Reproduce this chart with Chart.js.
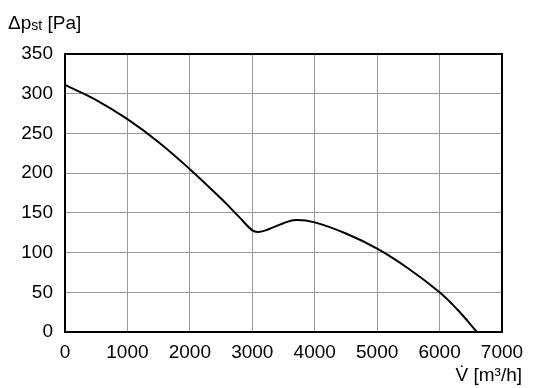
<!DOCTYPE html>
<html>
<head>
<meta charset="utf-8">
<script src="https://cdn.jsdelivr.net/npm/chart.js@4/dist/chart.umd.min.js"></script>
<style>
  body { margin: 0; background: #fff; }
  #wrap { width: 536px; height: 388px; }
</style>
</head>
<body>
<div id="wrap"><canvas id="myChart" width="536" height="388"></canvas></div>
<script>
'use strict';

// data
let flowValues = [0, 500, 1000, 1500, 2000, 2500, 2800, 3000, 3100, 3250, 3500, 3700, 4000, 4500, 5000, 5500, 6000, 6300, 6600];
let pressureValues = [311, 292, 268, 239, 205, 168, 144, 128, 126, 129, 137, 141, 138, 124, 105, 80, 50, 27, 0];
let xTicks = [0, 1000, 2000, 3000, 4000, 5000, 6000, 7000];
let yTicks = [0, 50, 100, 150, 200, 250, 300, 350];

let fontName = '"Liberation Sans", Arial, sans-serif';

let points = [];
for (let i = 0; i < flowValues.length; i++) {
    points.push({ x: flowValues[i], y: pressureValues[i] });
}

// frame plus the two axis titles
let framePlugin = {
    id: 'frame',
    afterDraw(chart) {
        let ctx = chart.ctx;
        let a = chart.chartArea;
        ctx.save();
        ctx.strokeStyle = '#000';
        ctx.lineWidth = 2;
        ctx.strokeRect(a.left, a.top, a.right - a.left, a.bottom - a.top);

        ctx.fillStyle = '#000';
        ctx.textBaseline = 'alphabetic';
        ctx.textAlign = 'left';
        let x = 8;
        ctx.font = '19px ' + fontName;
        ctx.fillText('Δp', x, 29);
        x += ctx.measureText('Δp').width;
        ctx.font = '14px ' + fontName;
        ctx.fillText('st', x, 30);
        x += ctx.measureText('st').width;
        ctx.font = '19px ' + fontName;
        ctx.fillText(' [Pa]', x, 29);

        ctx.textAlign = 'right';
        ctx.fillText('V\u0307 [m\u00b3/h]', 522, 381);
        ctx.restore();
    }
};

let chartObject = {
    type: 'scatter',
    data: {
        datasets: [{
            data: points,
            showLine: true,
            borderColor: '#000',
            borderWidth: 2,
            pointRadius: 0,
            tension: 0.4,
            fill: false
        }]
    },
    options: {
        responsive: false,
        animation: false,
        layout: { padding: { left: 0, top: 54, right: 34, bottom: 0 } },
        plugins: {
            legend: { display: false },
            tooltip: { enabled: false }
        },
        scales: {
            x: {
                type: 'linear',
                min: 0,
                max: 7000,
                afterBuildTicks: (axis) => { axis.ticks = xTicks.map(v => ({ value: v })); },
                afterFit: (axis) => { axis.height = 56; },
                grid: { color: '#9a9a9a', lineWidth: 1, drawTicks: false },
                border: { display: false },
                ticks: {
                    color: '#000',
                    padding: 9,
                    maxRotation: 0,
                    font: { family: fontName, size: 19 },
                    callback: (v) => String(v)
                }
            },
            y: {
                type: 'linear',
                min: 0,
                max: 350,
                afterBuildTicks: (axis) => { axis.ticks = yTicks.map(v => ({ value: v })); },
                afterFit: (axis) => { axis.width = 65; },
                grid: { color: '#9a9a9a', lineWidth: 1, drawTicks: false },
                border: { display: false },
                ticks: {
                    color: '#000',
                    padding: 12,
                    font: { family: fontName, size: 19 },
                    callback: (v) => String(v)
                }
            }
        }
    },
    plugins: [framePlugin]
};

let ctx = document.getElementById('myChart').getContext('2d');
let myChart = new Chart(ctx, chartObject);
</script>
</body>
</html>
